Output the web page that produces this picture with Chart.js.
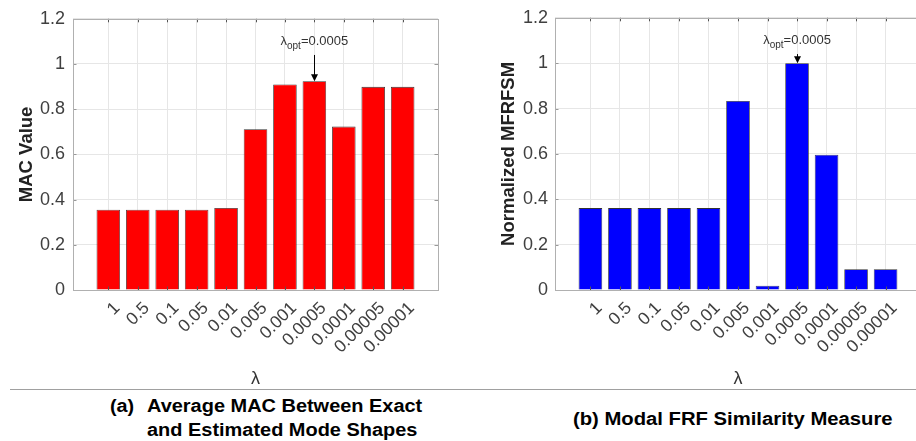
<!DOCTYPE html>
<html>
<head>
<meta charset="utf-8">
<script src="https://cdn.jsdelivr.net/npm/chart.js@4.4.1/dist/chart.umd.min.js"></script>
<style>
  html, body { margin:0; padding:0; background:#fff; }
  body { width:916px; height:441px; position:relative; overflow:hidden; font-family:"Liberation Sans", Arial, sans-serif; }
  .cap { position:absolute; font-weight:bold; font-size:18px; line-height:24px; color:#000; white-space:nowrap; transform-origin:0 0; }
</style>
</head>
<body>
<div style="position:absolute;left:0;top:0;width:458px;height:390px;">
  <canvas id="cA" width="458" height="390"></canvas>
</div>
<div style="position:absolute;left:458px;top:0;width:458px;height:390px;overflow:hidden;">
  <canvas id="cB" width="470" height="390"></canvas>
</div>
<div style="position:absolute;left:10px;top:389px;width:906px;height:1px;background:#a0a0a0;"></div>
<div class="cap" style="left:110px;top:393.5px;transform:scaleX(1.1);">(a)</div>
<div class="cap" style="left:147px;top:393.5px;transform:scaleX(1.108);">Average MAC Between Exact<br>and Estimated Mode Shapes</div>
<div class="cap" style="left:573px;top:407px;transform:scaleX(1.125);">(b) Modal FRF Similarity Measure</div>
<script>
const FONT = '"Liberation Sans", Arial, sans-serif';

// ---- data ----
const categories = ['1','0.5','0.1','0.05','0.01','0.005','0.001','0.0005','0.0001','0.00005','0.00001'];
const macValues = [0.355,0.355,0.355,0.355,0.363,0.711,0.909,0.924,0.723,0.899,0.899];
const mfrfsmValues = [0.361,0.361,0.361,0.361,0.361,0.833,0.019,1.0,0.596,0.092,0.092];
const yTicks = [0,0.2,0.4,0.6,0.8,1,1.2];
const optimalLabel = '0.0005';

const TEXT_BASE_Y = 1.084;
const ARROW_START_Y = 1.04;

const framePlugin = {
  id:'frame',
  afterDatasetsDraw(chart){
    const {ctx, chartArea:a, scales:{x, y}} = chart;
    ctx.save();
    ctx.lineWidth = 1;
    ctx.strokeStyle = '#555';
    ctx.beginPath();
    x.ticks.forEach(t=>{
      const px = Math.round(x.getPixelForValue(t.value)) + 0.5;
      ctx.moveTo(px, a.bottom); ctx.lineTo(px, a.bottom - 3.5);
      ctx.moveTo(px, a.top); ctx.lineTo(px, a.top + 3.5);
    });
    ctx.stroke();
    ctx.strokeStyle = '#999';
    ctx.beginPath();
    y.ticks.forEach(t=>{
      const py = Math.round(y.getPixelForValue(t.value)) + 0.5;
      ctx.moveTo(a.left, py); ctx.lineTo(a.left + 3.5, py);
      ctx.moveTo(a.right, py); ctx.lineTo(a.right - 3.5, py);
    });
    ctx.stroke();
    ctx.strokeStyle = '#b0b0b0';
    ctx.strokeRect(Math.round(a.left) + 0.5, Math.round(a.top) + 0.5, Math.round(a.right - a.left), Math.round(a.bottom - a.top));
    ctx.restore();
  }
};

function annotationPlugin(values){
  return {
    id:'ann',
    afterDatasetsDraw(chart){
      const {ctx, scales:{x, y}} = chart;
      const idx = categories.indexOf(optimalLabel);
      const px = x.getPixelForValue(idx + 1);
      const top = y.getPixelForValue(values[idx]);
      const start = y.getPixelForValue(ARROW_START_Y);
      const base = y.getPixelForValue(TEXT_BASE_Y);
      ctx.save();
      ctx.strokeStyle = '#000'; ctx.fillStyle = '#000'; ctx.lineWidth = 1;
      const cx = Math.round(px) + 0.5;
      ctx.beginPath(); ctx.moveTo(cx, start); ctx.lineTo(cx, top - 6); ctx.stroke();
      ctx.beginPath(); ctx.moveTo(cx - 3.5, top - 7); ctx.lineTo(cx + 3.5, top - 7); ctx.lineTo(cx, top); ctx.closePath(); ctx.fill();
      const mainFont = '13px ' + FONT, subFont = '10px ' + FONT;
      const parts = [['λ', mainFont, 0], ['opt', subFont, 4], ['=' + optimalLabel, mainFont, 0]];
      let total = 0;
      parts.forEach(p=>{ ctx.font = p[1]; p.push(ctx.measureText(p[0]).width); total += p[3]; });
      let tx = px - total / 2;
      ctx.fillStyle = '#333';
      ctx.textBaseline = 'alphabetic'; ctx.textAlign = 'left';
      parts.forEach(p=>{ ctx.font = p[1]; ctx.fillText(p[0], tx, base + p[2]); tx += p[3]; });
      ctx.restore();
    }
  };
}

function makeChart(id, values, color, yTitle, o){
  const data = values.map((v, i) => ({x: i + 1, y: v}));
  return new Chart(document.getElementById(id), {
    type:'bar',
    data:{ datasets:[{ data, backgroundColor:color, borderColor:'#333', borderWidth:0.8,
      barPercentage:0.8, categoryPercentage:1.0 }] },
    options:{
      responsive:false, animation:false, devicePixelRatio:1,
      layout:{ padding:{ top:15, right:o.padRight, left:0, bottom:0 } },
      plugins:{ legend:{display:false}, tooltip:{enabled:false} },
      scales:{
        x:{
          type:'linear', min:-0.2, max:12.2, offset:false,
          afterBuildTicks:s=>{ s.ticks = categories.map((c, i) => ({value:i + 1})); },
          afterFit:s=>{ s.height = 100; },
          ticks:{ autoSkip:false, minRotation:45, maxRotation:45,
            callback:(v)=>categories[Math.round(v) - 1],
            font:{family:FONT, size:17.5}, color:'#404040', padding:8, labelOffset:9 },
          grid:{ color:'#e6e6e6', drawTicks:false, offset:false },
          border:{ display:false },
          title:{ display:true, text:'λ', font:{family:FONT, size:18}, color:'#333', padding:{top:2, bottom:0} }
        },
        y:{
          min:0, max:1.2,
          afterBuildTicks:s=>{ s.ticks = yTicks.map(v => ({value:v})); },
          afterFit:s=>{ s.width = o.yWidth; },
          ticks:{ callback:v=>String(+v.toFixed(1)), font:{family:FONT, size:18}, color:'#404040', padding:o.yPad },
          grid:{ color:'#e6e6e6', drawTicks:false },
          border:{ display:false },
          title:{ display:true, text:yTitle, font:{family:FONT, size:18.5, weight:'bold'}, color:'#222',
            padding:{top:o.yTitlePad, bottom:0} }
        }
      }
    },
    plugins:[framePlugin, annotationPlugin(values)]
  });
}

makeChart('cA', macValues, '#ff0000', 'MAC Value', {padRight:20, yWidth:73, yPad:8, yTitlePad:15.8});
makeChart('cB', mfrfsmValues, '#0000ff', 'Normalized MFRFSM', {padRight:7, yWidth:97, yPad:7, yTitlePad:39.8});
</script>
</body>
</html>
